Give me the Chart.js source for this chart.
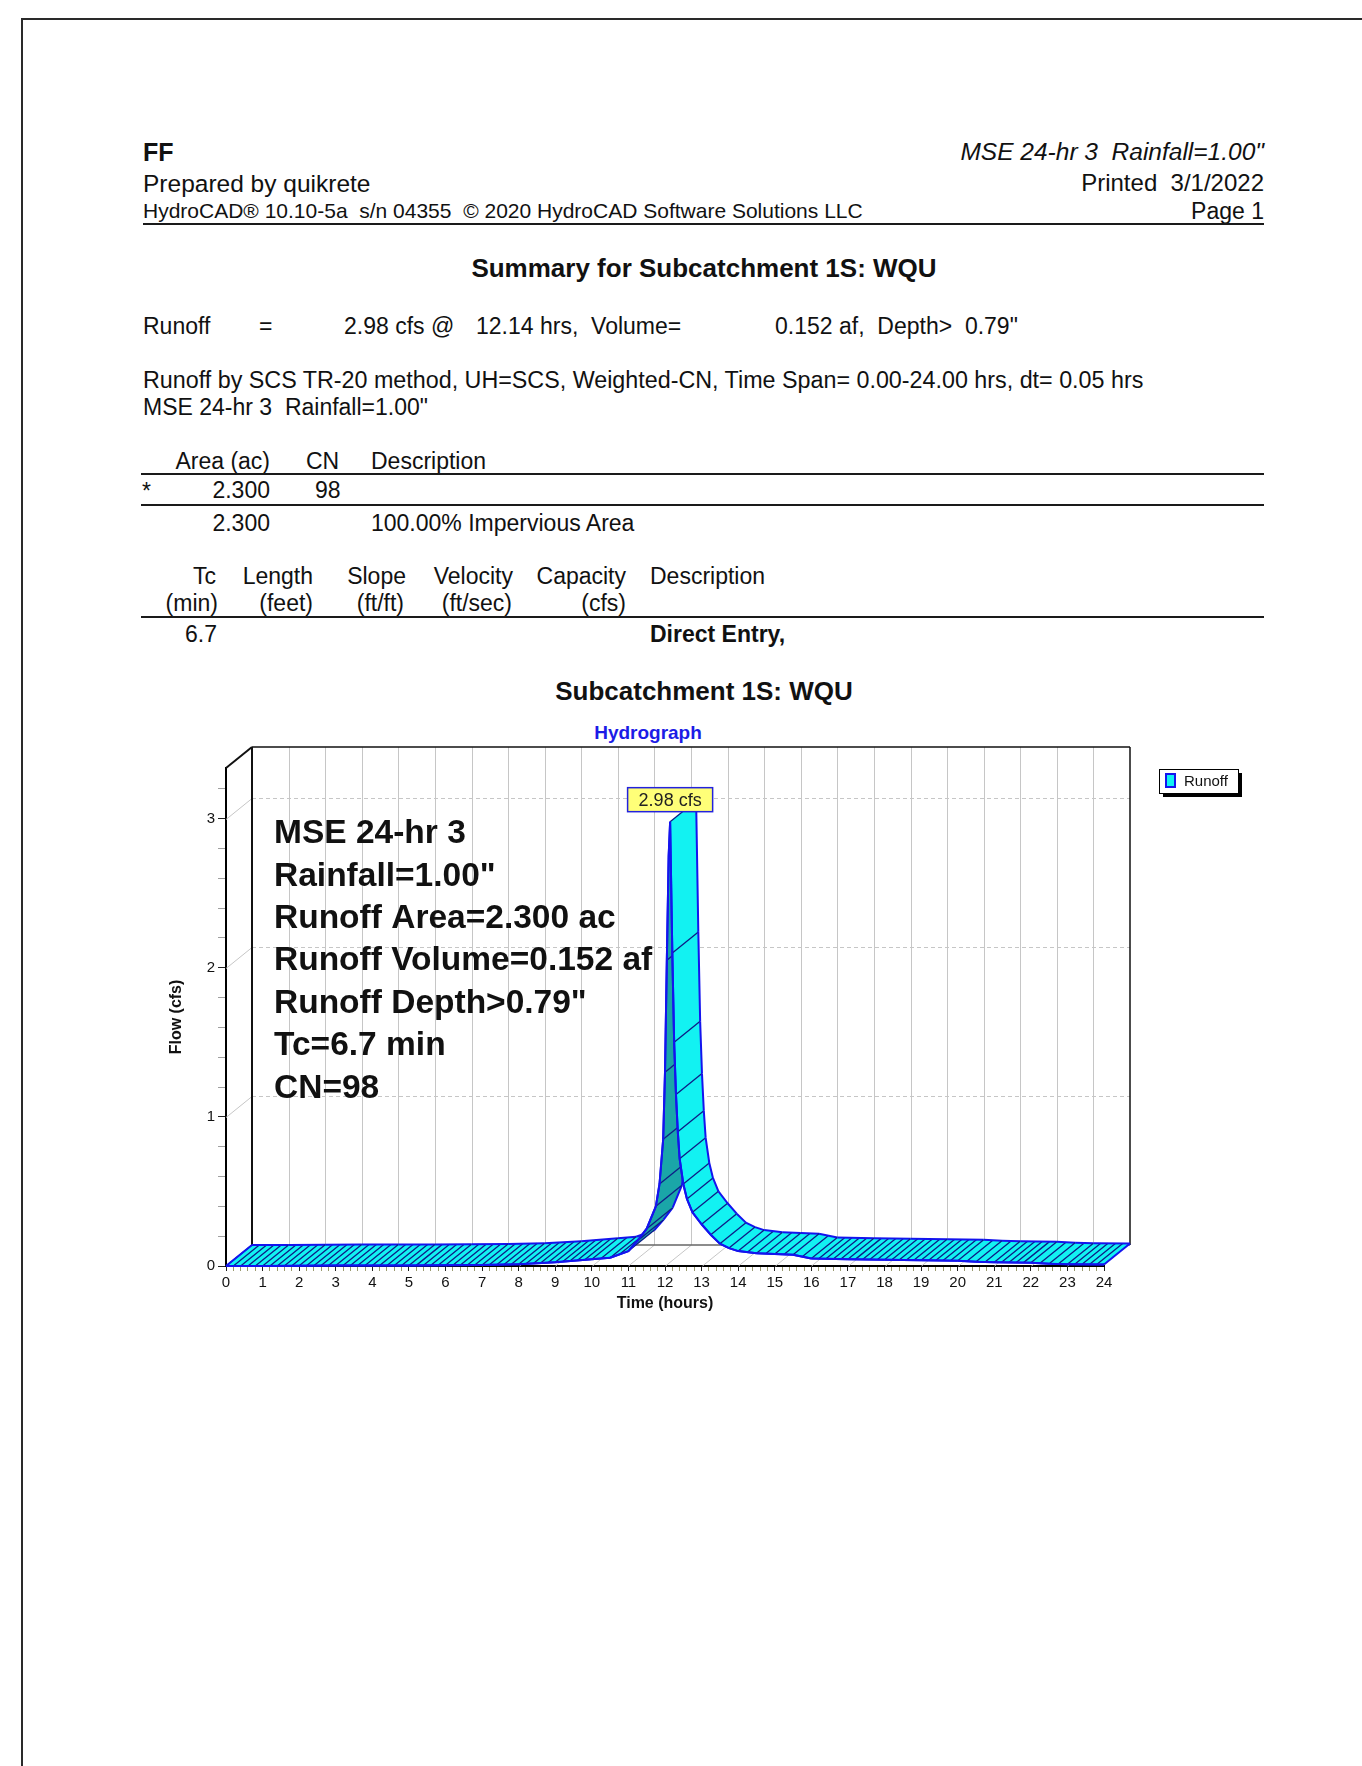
<!DOCTYPE html>
<html>
<head>
<meta charset="utf-8">
<title>Summary for Subcatchment 1S: WQU</title>
<script src="https://cdn.jsdelivr.net/npm/chart.js@4.4.1/dist/chart.umd.min.js"></script>
<style>
  body { margin: 0; background: #fff; }
  #page { position: relative; width: 1362px; height: 1766px; overflow: hidden;
          font-family: "Liberation Sans", Arial, sans-serif; color: #111; }
  #page .t { position: absolute; line-height: 1; white-space: pre; }
  .b { font-weight: bold; }
  .i { font-style: italic; }
  .c { text-align: center; width: 800px; }
  .rule { position: absolute; background: #1a1a1a; height: 2px; }
  #frame { position: absolute; left: 21px; top: 18px; width: 1400px; height: 1800px;
           border-left: 2px solid #2a2a2a; border-top: 2px solid #2a2a2a; }
  #hydro { position: absolute; left: 140px; top: 740px; }
</style>
</head>
<body>
<div id="page">
  <div id="frame"></div>

  <!-- en-tete -->
  <div class="t b" style="left:143px;top:140px;font-size:25px">FF</div>
  <div class="t" style="left:143px;top:172px;font-size:24.5px">Prepared by quikrete</div>
  <div class="t" style="left:143px;top:200px;font-size:21px">HydroCAD® 10.10-5a  s/n 04355  © 2020 HydroCAD Software Solutions LLC</div>
  <div class="t i" style="right:98px;top:140px;font-size:24.5px">MSE 24-hr 3  Rainfall=1.00"</div>
  <div class="t" style="right:98px;top:171px;font-size:24px">Printed  3/1/2022</div>
  <div class="t" style="right:98px;top:200px;font-size:23px">Page 1</div>
  <div class="rule" style="left:143px;top:223px;width:1121px"></div>

  <div class="t b c" style="left:304px;top:255px;font-size:26px">Summary for Subcatchment 1S: WQU</div>

  <div class="t" style="left:143px;top:315px;font-size:23px">Runoff</div>
  <div class="t" style="left:259px;top:315px;font-size:23px">=</div>
  <div class="t" style="left:344px;top:315px;font-size:23px">2.98 cfs @</div>
  <div class="t" style="left:476px;top:315px;font-size:23px">12.14 hrs,  Volume=</div>
  <div class="t" style="left:775px;top:315px;font-size:23px">0.152 af,  Depth>  0.79"</div>

  <div class="t" style="left:143px;top:369px;font-size:23.3px">Runoff by SCS TR-20 method, UH=SCS, Weighted-CN, Time Span= 0.00-24.00 hrs, dt= 0.05 hrs</div>
  <div class="t" style="left:143px;top:396px;font-size:23px">MSE 24-hr 3  Rainfall=1.00"</div>

  <!-- tableau surfaces -->
  <div class="t" style="right:1092px;top:450px;font-size:23px">Area (ac)</div>
  <div class="t" style="left:306px;top:450px;font-size:23px">CN</div>
  <div class="t" style="left:371px;top:450px;font-size:23px">Description</div>
  <div class="rule" style="left:141px;top:473px;width:1123px"></div>
  <div class="t" style="left:142px;top:480px;font-size:23px">*</div>
  <div class="t" style="right:1092px;top:479px;font-size:23px">2.300</div>
  <div class="t" style="left:315px;top:479px;font-size:23px">98</div>
  <div class="rule" style="left:141px;top:504px;width:1123px"></div>
  <div class="t" style="right:1092px;top:512px;font-size:23px">2.300</div>
  <div class="t" style="left:371px;top:512px;font-size:23px">100.00% Impervious Area</div>

  <!-- tableau Tc -->
  <div class="t" style="right:1146px;top:565px;font-size:23px">Tc</div>
  <div class="t" style="right:1049px;top:565px;font-size:23px">Length</div>
  <div class="t" style="right:956px;top:565px;font-size:23px">Slope</div>
  <div class="t" style="right:849px;top:565px;font-size:23px">Velocity</div>
  <div class="t" style="right:736px;top:565px;font-size:23px">Capacity</div>
  <div class="t" style="left:650px;top:565px;font-size:23px">Description</div>
  <div class="t" style="right:1144px;top:592px;font-size:23px">(min)</div>
  <div class="t" style="right:1049px;top:592px;font-size:23px">(feet)</div>
  <div class="t" style="right:958px;top:592px;font-size:23px">(ft/ft)</div>
  <div class="t" style="right:850px;top:592px;font-size:23px">(ft/sec)</div>
  <div class="t" style="right:736px;top:592px;font-size:23px">(cfs)</div>
  <div class="rule" style="left:141px;top:616px;width:1123px"></div>
  <div class="t" style="right:1145px;top:623px;font-size:23px">6.7</div>
  <div class="t b" style="left:650px;top:623px;font-size:23px">Direct Entry,</div>

  <!-- titres du graphique -->
  <div class="t b c" style="left:304px;top:678px;font-size:26px">Subcatchment 1S: WQU</div>
  <div class="t b c" style="left:248px;top:723px;font-size:19px;color:#1c1ce6">Hydrograph</div>

  <canvas id="hydro" width="1140" height="600"></canvas>
</div>

<script>
const hours = [0, 1, 2, 3, 4, 5, 6, 7, 8, 9, 10, 10.5, 11, 11.25, 11.5, 11.75, 11.85, 11.95,
               12, 12.05, 12.1, 12.14, 12.2, 12.25, 12.3, 12.35, 12.4, 12.5, 12.6, 12.75,
               13, 13.25, 13.5, 13.75, 14, 14.5, 15, 15.5, 16, 17, 18, 19, 20, 20.5, 21, 22, 22.5, 23, 24];
const runoff = [0, 0, 0.002, 0.003, 0.003, 0.004, 0.005, 0.007, 0.012, 0.025, 0.045, 0.055, 0.1, 0.17, 0.25, 0.4, 0.55, 0.85,
                1.3, 2.05, 2.75, 2.98, 2.1, 1.5, 1.15, 0.9, 0.72, 0.55, 0.45, 0.36,
                0.28, 0.21, 0.15, 0.12, 0.1, 0.085, 0.08, 0.075, 0.05, 0.045, 0.042, 0.038, 0.035, 0.028, 0.025, 0.022, 0.015, 0.012, 0.01];

const seriesName = 'Runoff';
const xRange = [0, 24];
const yRange = [0, 3.34];
const minorStep = 0.2;
const wallHours = [1, 2, 3, 4, 5, 6, 7, 8, 9, 10, 11, 12, 13, 14, 15, 16, 17, 18, 19, 20, 21, 22, 23];
const wallFlows = [1, 2, 3];
const infoLines = ['MSE 24-hr 3', 'Rainfall=1.00"', 'Runoff Area=2.300 ac', 'Runoff Volume=0.152 af',
                   'Runoff Depth>0.79"', 'Tc=6.7 min', 'CN=98'];

// Style
const FILL = '#12f2f2';
const SHADE = '#1aa6a8';
const EDGE = '#1414ee';
const HATCH = '#0c1c86';
const DEPTH_X = 26, DEPTH_Y = -21;
const HATCH_PX = 7.4;

Chart.defaults.font.family = '"Liberation Sans", Arial, sans-serif';
Chart.defaults.color = '#111';

const isMajor = v => Math.abs(v - Math.round(v)) < 1e-6;

function line(ctx, x1, y1, x2, y2) {
    ctx.beginPath();
    ctx.moveTo(x1, y1);
    ctx.lineTo(x2, y2);
    ctx.stroke();
}

// Ruban 3D de la serie: face avant = courbe, face arriere decalee en profondeur
function drawRibbon(chart) {
    const ctx = chart.ctx;
    const pts = chart.getDatasetMeta(0).data;
    ctx.lineJoin = 'round';
    for (let i = 0; i < pts.length - 1; i++) {
        const p = pts[i], q = pts[i + 1];
        const cross = (q.x - p.x) * DEPTH_Y - (q.y - p.y) * DEPTH_X;

        ctx.beginPath();
        ctx.moveTo(p.x, p.y);
        ctx.lineTo(q.x, q.y);
        ctx.lineTo(q.x + DEPTH_X, q.y + DEPTH_Y);
        ctx.lineTo(p.x + DEPTH_X, p.y + DEPTH_Y);
        ctx.closePath();
        ctx.fillStyle = cross > 0 ? SHADE : FILL;
        ctx.fill();

        // hachures
        const n = Math.max(1, Math.round((q.x - p.x) / HATCH_PX));
        ctx.strokeStyle = HATCH;
        ctx.lineWidth = 1.3;
        ctx.beginPath();
        for (let k = 0; k < n; k++) {
            const f = k / n;
            const hx = p.x + (q.x - p.x) * f, hy = p.y + (q.y - p.y) * f;
            ctx.moveTo(hx, hy);
            ctx.lineTo(hx + DEPTH_X, hy + DEPTH_Y);
        }
        ctx.stroke();

        ctx.strokeStyle = EDGE;
        ctx.lineWidth = 2;
        ctx.beginPath();
        ctx.moveTo(p.x + DEPTH_X, p.y + DEPTH_Y);
        ctx.lineTo(q.x + DEPTH_X, q.y + DEPTH_Y);
        ctx.moveTo(p.x, p.y);
        ctx.lineTo(q.x, q.y);
        ctx.stroke();
    }
    const a = pts[0], z = pts[pts.length - 1];
    ctx.strokeStyle = EDGE;
    ctx.lineWidth = 2;
    line(ctx, a.x, a.y, a.x + DEPTH_X, a.y + DEPTH_Y);
    line(ctx, z.x, z.y, z.x + DEPTH_X, z.y + DEPTH_Y);
}

const box3dPlugin = {
    id: 'box3d',
    beforeDatasetsDraw(chart) {
        const { ctx, chartArea: a, scales: { x, y } } = chart;
        const bl = a.left + DEPTH_X, br = a.right + DEPTH_X;
        const bt = a.top + DEPTH_Y, bb = a.bottom + DEPTH_Y;
        ctx.save();

        // grille du fond
        ctx.strokeStyle = '#c6c6c6';
        ctx.lineWidth = 1;
        wallHours.forEach(h => {
            const px = Math.round(x.getPixelForValue(h)) + 0.5;
            line(ctx, px + DEPTH_X, bt, px + DEPTH_X, bb);
            line(ctx, px, a.bottom, px + DEPTH_X, bb);
        });
        wallFlows.forEach(v => {
            const py = Math.round(y.getPixelForValue(v)) + 0.5;
            ctx.setLineDash([4, 3]);
            line(ctx, bl, py + DEPTH_Y, br, py + DEPTH_Y);
            ctx.setLineDash([]);
            line(ctx, a.left, py, bl, py + DEPTH_Y);
        });

        // aretes de la boite
        ctx.strokeStyle = '#666';
        ctx.lineWidth = 1.5;
        line(ctx, bl, bb, br, bb);
        ctx.strokeStyle = '#111';
        ctx.lineWidth = 1.5;
        line(ctx, bl, bt, br, bt);
        line(ctx, br, bt, br, bb);
        ctx.lineWidth = 2;
        line(ctx, bl, bt, bl, bb);
        line(ctx, a.left, a.top, bl, bt);

        drawRibbon(chart);
        ctx.restore();
    },
    afterDatasetsDraw(chart) {
        const { ctx, chartArea: a } = chart;
        ctx.save();

        // texte de synthese
        ctx.fillStyle = '#111';
        ctx.font = 'bold 33.5px "Liberation Sans", Arial, sans-serif';
        ctx.textBaseline = 'middle';
        infoLines.forEach((s, i) => ctx.fillText(s, a.left + 48, a.top + 66 + i * 42.4));

        // etiquette du pic
        let iPeak = 0;
        runoff.forEach((v, i) => { if (v > runoff[iPeak]) iPeak = i; });
        const pk = chart.getDatasetMeta(0).data[iPeak];
        const txt = runoff[iPeak].toFixed(2) + ' cfs';
        ctx.font = '18px "Liberation Sans", Arial, sans-serif';
        const w = ctx.measureText(txt).width + 22, h = 24;
        const bx = pk.x - w / 2, by = pk.y - 10 - h;
        ctx.fillStyle = '#ffff78';
        ctx.fillRect(bx, by, w, h);
        ctx.strokeStyle = '#2222dd';
        ctx.lineWidth = 1.5;
        ctx.strokeRect(bx, by, w, h);
        ctx.fillStyle = '#222';
        ctx.textAlign = 'center';
        ctx.fillText(txt, pk.x, by + h / 2 + 1);

        // legende
        const lx = a.right + 55, ly = a.top + 1, lw = 79, lh = 24;
        ctx.fillStyle = '#000';
        ctx.fillRect(lx + 4, ly + 4, lw, lh);
        ctx.fillStyle = '#fff';
        ctx.fillRect(lx, ly, lw, lh);
        ctx.strokeStyle = '#000';
        ctx.lineWidth = 1;
        ctx.strokeRect(lx + 0.5, ly + 0.5, lw, lh);
        ctx.fillStyle = FILL;
        ctx.fillRect(lx + 7, ly + 5, 9, 13);
        ctx.strokeStyle = EDGE;
        ctx.lineWidth = 2;
        ctx.strokeRect(lx + 7, ly + 5, 9, 13);
        ctx.fillStyle = '#111';
        ctx.textAlign = 'left';
        ctx.font = '15px "Liberation Sans", Arial, sans-serif';
        ctx.fillText(chart.data.datasets[0].label, lx + 25, ly + lh / 2 + 1);

        ctx.restore();
    }
};

new Chart(document.getElementById('hydro'), {
    type: 'line',
    data: {
        datasets: [{
            label: seriesName,
            data: hours.map((t, i) => ({ x: t, y: runoff[i] })),
            borderColor: EDGE,
            borderWidth: 2,
            pointRadius: 0,
            fill: false,
            tension: 0,
            clip: 6
        }]
    },
    options: {
        responsive: false,
        animation: false,
        events: [],
        layout: { padding: { left: 27, right: 176, top: 28, bottom: 27 } },
        plugins: {
            legend: { display: false },
            tooltip: { enabled: false }
        },
        scales: {
            x: {
                type: 'linear',
                min: xRange[0],
                max: xRange[1],
                afterFit: s => { s.height = 47; },
                border: { display: true, color: '#000', width: 2 },
                grid: {
                    drawOnChartArea: false,
                    drawTicks: true,
                    tickLength: 5,
                    tickColor: c => isMajor(c.tick.value) ? '#222' : '#9a9a70'
                },
                ticks: {
                    stepSize: minorStep,
                    autoSkip: false,
                    maxRotation: 0,
                    padding: 3,
                    color: '#111',
                    font: { size: 15 },
                    callback: v => isMajor(v) ? String(Math.round(v)) : ''
                },
                title: {
                    display: true,
                    text: 'Time (hours)',
                    padding: 0,
                    color: '#111',
                    font: { size: 16, weight: 'bold' }
                }
            },
            y: {
                min: yRange[0],
                max: yRange[1],
                afterFit: s => { s.width = 59; },
                border: { display: true, color: '#000', width: 2 },
                grid: {
                    drawOnChartArea: false,
                    drawTicks: true,
                    tickLength: 8,
                    tickColor: c => isMajor(c.tick.value) ? '#222' : '#a0a0a0'
                },
                ticks: {
                    stepSize: minorStep,
                    includeBounds: false,
                    autoSkip: false,
                    padding: 3,
                    color: '#111',
                    font: { size: 15 },
                    callback: v => isMajor(v) ? String(Math.round(v)) : ''
                },
                title: {
                    display: true,
                    text: 'Flow (cfs)',
                    padding: 0,
                    color: '#111',
                    font: { size: 16, weight: 'bold' }
                }
            }
        }
    },
    plugins: [box3dPlugin]
});
</script>
</body>
</html>
